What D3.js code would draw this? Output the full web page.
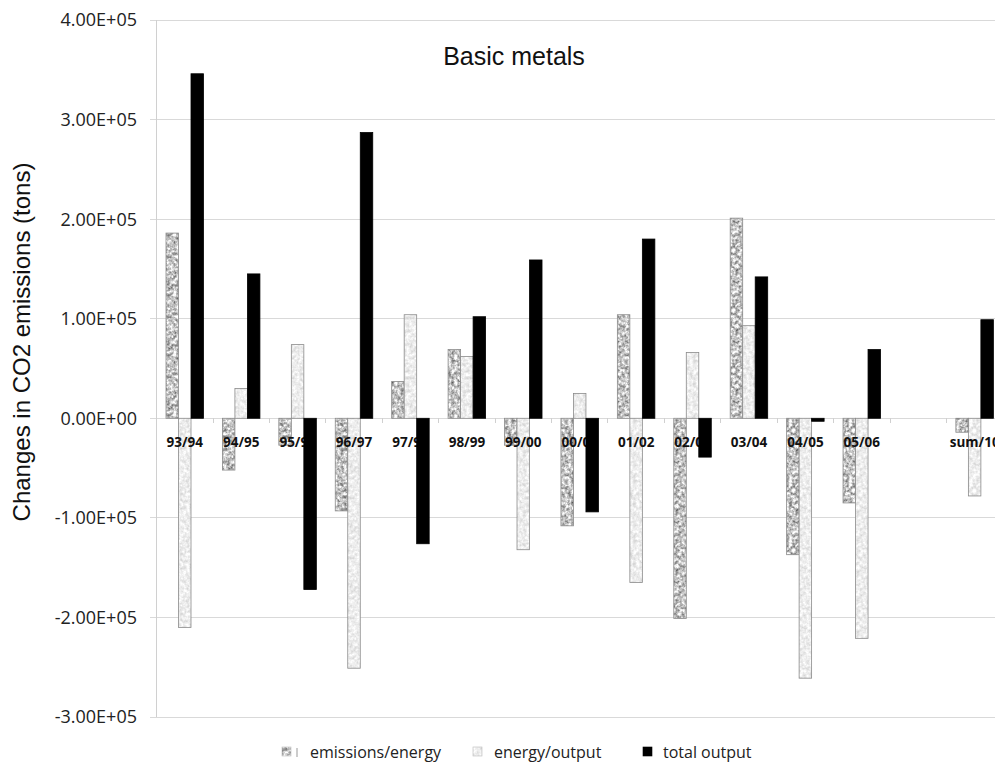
<!DOCTYPE html>
<html><head><meta charset="utf-8">
<script src="https://cdn.jsdelivr.net/npm/d3@7"></script>
<style>body{margin:0;background:#fff}svg{display:block}</style>
</head><body>
<svg id="c" width="995" height="767"></svg>
<script>
const categories = ["93/94","94/95","95/96","96/97","97/98","98/99","99/00","00/01","01/02","02/03","03/04","04/05","05/06","","sum/10"];
const emisEnergy   = [1.86e5,-0.52e5,-0.27e5,-0.93e5,0.37e5,0.69e5,-0.27e5,-1.08e5,1.04e5,-2.01e5,2.01e5,-1.37e5,-0.85e5,null,-0.14e5];
const energyOutput = [-2.10e5,0.30e5,0.74e5,-2.51e5,1.04e5,0.62e5,-1.32e5,0.25e5,-1.65e5,0.66e5,0.93e5,-2.61e5,-2.21e5,null,-0.78e5];
const totalOutput  = [3.46e5,1.45e5,-1.72e5,2.87e5,-1.26e5,1.02e5,1.59e5,-0.94e5,1.80e5,-0.39e5,1.42e5,-0.03e5,0.69e5,null,0.99e5];
const seriesNames  = ["emissions/energy","energy/output","total output"];
const yTicks = [-3e5,-2e5,-1e5,0,1e5,2e5,3e5,4e5];
const yTickLabels = ["-3.00E+05","-2.00E+05","-1.00E+05","0.00E+00","1.00E+05","2.00E+05","3.00E+05","4.00E+05"];

const svg = d3.select("#c");
const defs = svg.append("defs");
function noise(id, k, c, freq){
  const f = defs.append("filter").attr("id", id).attr("filterUnits","userSpaceOnUse")
    .attr("color-interpolation-filters","sRGB")
    .attr("x",0).attr("y",0).attr("width",60).attr("height",60);
  f.append("feTurbulence").attr("type","fractalNoise").attr("baseFrequency",freq).attr("numOctaves",3).attr("seed",4).attr("stitchTiles","stitch");
  f.append("feColorMatrix").attr("type","matrix")
    .attr("values",`${k} 0 0 0 ${c}  ${k} 0 0 0 ${c}  ${k} 0 0 0 ${c}  0 0 0 0 1`);
  const p = defs.append("pattern").attr("id","p"+id).attr("patternUnits","userSpaceOnUse").attr("width",60).attr("height",60);
  p.append("rect").attr("width",60).attr("height",60).attr("filter",`url(#${id})`);
}
noise("ee", 1.05, 0.24, 0.32);
noise("eo", 0.3, 0.78, 0.3);
const fills = ["url(#pee)","url(#peo)","#000"];
const strokes = ["#8a8a8a","#8a8a8a","#000"];

const x = d3.scaleBand().domain(d3.range(categories.length)).range([156.6, 156.6 + 15*56.42]).padding(0);
const x1 = d3.scaleBand().domain([0,1,2]).range([9.4, 46.9]).padding(0);
const y = d3.scaleLinear().domain([-3e5, 4e5]).range([717, 20]);

// grid
svg.append("g").selectAll("line").data(yTicks).join("line")
  .attr("x1",150).attr("x2",995).attr("y1",d=>y(d)).attr("y2",d=>y(d))
  .attr("stroke","#d9d9d9").attr("stroke-width",1).attr("shape-rendering","crispEdges");
svg.append("line").attr("x1",156).attr("x2",156).attr("y1",y(4e5)).attr("y2",y(-3e5))
  .attr("stroke","#d0d0d0").attr("shape-rendering","crispEdges");

// y tick labels
svg.append("g").selectAll("text").data(yTicks).join("text")
  .attr("x",137).attr("y",d=>y(d)).attr("dy","0.36em").attr("text-anchor","end")
  .attr("font-family","'Open Sans'").attr("font-size",18).attr("fill","#222")
  .text((d,i)=>yTickLabels[i]);

// category ticks
svg.append("g").selectAll("line").data(d3.range(1, categories.length)).join("line")
  .attr("x1",d=>x(d)).attr("x2",d=>x(d)).attr("y1",y(0)).attr("y2",y(0)+5)
  .attr("stroke","#d0d0d0").attr("shape-rendering","crispEdges");

const data = categories.map((c,i)=>({i, v:[emisEnergy[i], energyOutput[i], totalOutput[i]]}));
function drawSeries(s){
  svg.append("g").selectAll("rect").data(data.filter(d=>d.v[s]!==null)).join("rect")
    .attr("x",d=>x(d.i)+x1(s)).attr("width",x1.bandwidth())
    .attr("y",d=>y(Math.max(0,d.v[s]))).attr("height",d=>Math.abs(y(d.v[s])-y(0)))
    .attr("fill",fills[s]).attr("stroke",strokes[s]).attr("stroke-width",0.8);
}
drawSeries(0); drawSeries(1);
// category labels
svg.append("g").selectAll("text").data(categories).join("text")
  .attr("x",(d,i)=>x(i)+x.bandwidth()/2).attr("y",447).attr("text-anchor","middle")
  .attr("font-family","'Open Sans'").attr("font-weight","bold").attr("font-size",13.5).attr("fill","#111")
  .text(d=>d);
drawSeries(2);

// title
svg.append("text").attr("x",514).attr("y",65).attr("text-anchor","middle")
  .attr("font-family","'Liberation Sans', Arial").attr("font-size",25).attr("fill","#111").text("Basic metals");
// y label
svg.append("text").attr("transform","translate(30,342) rotate(-90)").attr("text-anchor","middle")
  .attr("font-family","'Liberation Sans', Arial").attr("font-size",24).attr("fill","#111")
  .text("Changes in CO2 emissions (tons)");

// legend
const legX = [282, 473, 643];
const legTX = [310, 494, 663];
const lg = svg.append("g");
seriesNames.forEach((n,s)=>{
  lg.append("rect").attr("x",legX[s]).attr("y",747).attr("width",9).attr("height",9)
    .attr("fill",fills[s]).attr("stroke",s===2?"#000":"#bbb").attr("stroke-width",0.6);
  lg.append("text").attr("x",legTX[s]).attr("y",758).attr("font-family","'Open Sans'").attr("font-size",16)
    .attr("fill","#222").text(n);
});
lg.append("line").attr("x1",297).attr("x2",297).attr("y1",748).attr("y2",757).attr("stroke","#999").attr("stroke-width",1);
</script>
</body></html>
